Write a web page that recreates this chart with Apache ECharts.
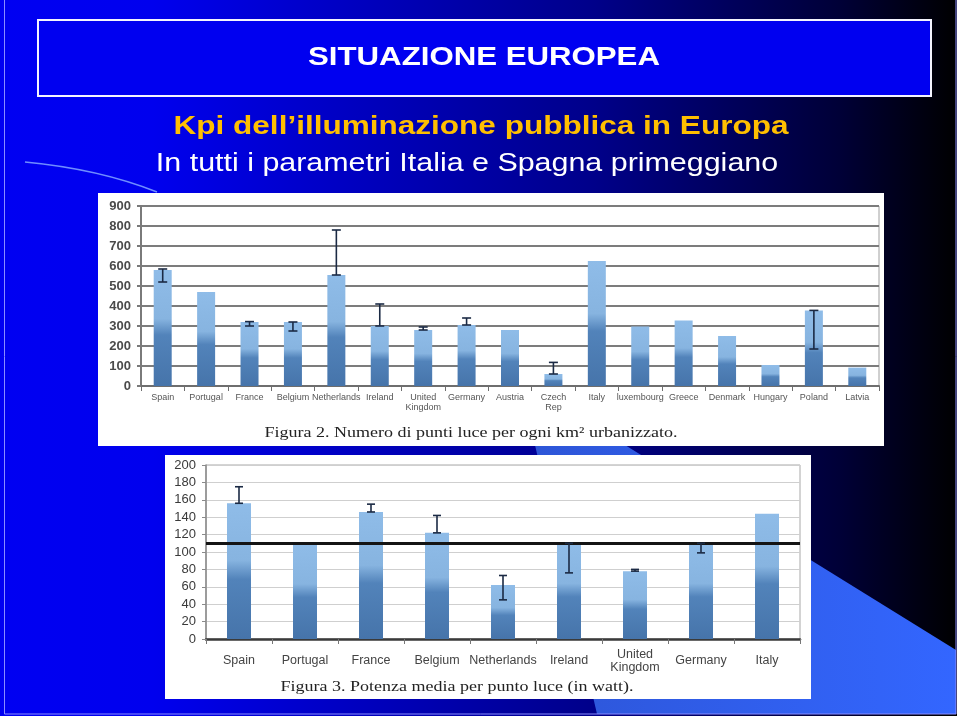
<!DOCTYPE html>
<html><head><meta charset="utf-8">
<script src="https://cdn.jsdelivr.net/npm/echarts@6/dist/echarts.min.js"></script>
<style>html,body{margin:0;padding:0;background:#fff;}#c{width:960px;height:716px;}</style>
</head><body><div id="c"></div>
<script>
// ---- Figure 2: number of light points per km² urbanized ----
const topCategories = ['Spain','Portugal','France','Belgium','Netherlands','Ireland','United\nKingdom','Germany','Austria','Czech\nRep','Italy','luxembourg','Greece','Denmark','Hungary','Poland','Latvia'];
const topValues   = [580, 470, 320, 320, 555, 300, 280, 305, 280, 60, 625, 297, 327, 250, 105, 378, 92];
const topErrLow   = [520, null, 300, 275, 555, 300, 280, 305, null, 60, null, null, null, null, null, 185, null];
const topErrHigh  = [585, null, 322, 320, 780, 410, 295, 340, null, 118, null, null, null, null, null, 378, null];

// ---- Figure 3: average power per light point (watt) ----
const bottomCategories = ['Spain','Portugal','France','Belgium','Netherlands','Ireland','United\nKingdom','Germany','Italy'];
const bottomValues  = [156, 109, 146, 122, 62, 110, 78, 110, 144];
const bottomErrLow  = [156, null, 146, 122, 45, 76, 78, 99, null];
const bottomErrHigh = [175, null, 155, 142, 73, 110, 80, 110, null];
const bottomReference = 110;

const slideTitle = 'SITUAZIONE EUROPEA';
const slideHeading = 'Kpi dell\u2019illuminazione pubblica in Europa';
const slideSub = 'In tutti i parametri Italia e Spagna primeggiano';
const caption2 = 'Figura 2. Numero di punti luce per ogni km\u00B2 urbanizzato.';
const caption3 = 'Figura 3. Potenza media per punto luce (in watt).';

const SANS = "'Liberation Sans', Arial, sans-serif";
const SERIF = "'Liberation Serif', 'Times New Roman', serif";

function barGradient() {
  return new echarts.graphic.LinearGradient(0, 0, 0, 1, [
    { offset: 0, color: '#8fbce8' },
    { offset: 0.42, color: '#87b4e0' },
    { offset: 0.56, color: '#5283ba' },
    { offset: 1, color: '#4674aa' }
  ]);
}

function errData(lo, hi) {
  const out = [];
  lo.forEach((l, i) => { if (l != null && hi[i] != null) out.push([i, l, hi[i]]); });
  return out;
}

function errorRender(capHalf) {
  return function (params, api) {
    const x = api.value(0);
    const a = api.coord([x, api.value(1)]);
    const b = api.coord([x, api.value(2)]);
    const style = { stroke: '#1b2a44', lineWidth: 1.6 };
    return {
      type: 'group',
      children: [
        { type: 'line', shape: { x1: a[0], y1: a[1], x2: b[0], y2: b[1] }, style: style },
        { type: 'line', shape: { x1: a[0] - capHalf, y1: a[1], x2: a[0] + capHalf, y2: a[1] }, style: style },
        { type: 'line', shape: { x1: b[0] - capHalf, y1: b[1], x2: b[0] + capHalf, y2: b[1] }, style: style }
      ]
    };
  };
}

const chart = echarts.init(document.getElementById('c'), null, { renderer: 'canvas' });

const graphics = [
  { type: 'rect', z: -100, shape: { x: 0, y: 0, width: 957, height: 716 },
    style: { fill: new echarts.graphic.LinearGradient(0, 0, 1, 0, [
      { offset: 0, color: '#0000f2' },
      { offset: 0.16, color: '#0000ee' },
      { offset: 0.62, color: '#00008a' },
      { offset: 0.88, color: '#000036' },
      { offset: 1, color: '#000000' }
    ]) } },
  { type: 'polygon', z: -99, shape: { points: [[520, 380], [956, 650], [956, 714], [597, 714]] },
    style: { fill: new echarts.graphic.LinearGradient(0, 0, 1, 0, [
      { offset: 0, color: '#2d55d6' },
      { offset: 1, color: '#3366ff' }
    ]) } },
  { type: 'bezierCurve', z: -98, shape: { x1: 25, y1: 162, cpx1: 99, cpy1: 169, x2: 157, y2: 192 },
    style: { stroke: '#6f8dff', lineWidth: 1.5, fill: null } },
  { type: 'rect', z: -97, shape: { x: 4.5, y: -2, width: 951.5, height: 716 },
    style: { fill: null, stroke: '#8a8cff', lineWidth: 1 } },
  { type: 'rect', z: -96, shape: { x: 38, y: 20, width: 893, height: 76 },
    style: { fill: '#0000f0', stroke: '#f4f4ff', lineWidth: 2 } },
  { type: 'text', z: 100, x: 484, y: 58, scaleX: 1.2,
    style: { text: slideTitle, fill: '#ffffff', font: 'bold 26px ' + SANS, textAlign: 'center', textVerticalAlign: 'middle' } },
  { type: 'text', z: 100, x: 481, y: 127, scaleX: 1.19,
    style: { text: slideHeading, fill: '#ffbf00', font: 'bold 26.5px ' + SANS, textAlign: 'center', textVerticalAlign: 'middle' } },
  { type: 'text', z: 100, x: 467, y: 164, scaleX: 1.17,
    style: { text: slideSub, fill: '#ffffff', font: '26px ' + SANS, textAlign: 'center', textVerticalAlign: 'middle' } },
  { type: 'rect', z: -50, shape: { x: 98, y: 193, width: 786, height: 253 }, style: { fill: '#ffffff' } },
  { type: 'rect', z: -50, shape: { x: 165, y: 455, width: 646, height: 244 }, style: { fill: '#ffffff' } },
  { type: 'text', z: 100, x: 471, y: 433, scaleX: 1.2,
    style: { text: caption2, fill: '#222222', font: '15px ' + SERIF, textAlign: 'center', textVerticalAlign: 'middle' } },
  { type: 'text', z: 100, x: 457, y: 687, scaleX: 1.2,
    style: { text: caption3, fill: '#222222', font: '15px ' + SERIF, textAlign: 'center', textVerticalAlign: 'middle' } }
];

const option = {
  animation: false,
  backgroundColor: 'transparent',
  graphic: { elements: graphics },
  grid: [
    { left: 141, top: 206, width: 738, height: 180, show: true, borderColor: '#a0a0a0', borderWidth: 1, backgroundColor: 'transparent' },
    { left: 206, top: 465, width: 594, height: 174, show: true, borderColor: '#a8a8a8', borderWidth: 1, backgroundColor: 'transparent' }
  ],
  xAxis: [
    { type: 'category', gridIndex: 0, data: topCategories,
      axisLine: { lineStyle: { color: '#6e6e6e', width: 2 } },
      axisTick: { show: true, length: 5, lineStyle: { color: '#6e6e6e', width: 1 } },
      axisLabel: { interval: 0, fontSize: 9, lineHeight: 10, margin: 7, color: '#555', fontFamily: SANS } },
    { type: 'category', gridIndex: 1, data: bottomCategories,
      axisLine: { lineStyle: { color: '#3a3a3a', width: 2.5 } },
      axisTick: { show: true, length: 5, lineStyle: { color: '#777', width: 1 } },
      axisLabel: { interval: 0, fontSize: 12.5, lineHeight: 13, margin: 22, verticalAlign: 'middle', color: '#444', fontFamily: SANS } }
  ],
  yAxis: [
    { type: 'value', gridIndex: 0, min: 0, max: 900, interval: 100,
      axisLine: { show: true, lineStyle: { color: '#7a7a7a', width: 2 } },
      axisTick: { show: true, length: 4, lineStyle: { color: '#7a7a7a', width: 2 } },
      splitLine: { show: true, lineStyle: { color: '#7c7c7c', width: 2 } },
      axisLabel: { fontSize: 13, fontWeight: 'bold', color: '#4a4a4a', margin: 10, fontFamily: SANS } },
    { type: 'value', gridIndex: 1, min: 0, max: 200, interval: 20,
      axisLine: { show: true, lineStyle: { color: '#8a8a8a', width: 1.5 } },
      axisTick: { show: true, length: 4, lineStyle: { color: '#8a8a8a', width: 1 } },
      splitLine: { show: true, lineStyle: { color: '#cfcfcf', width: 1 } },
      axisLabel: { fontSize: 13, color: '#3a3a3a', margin: 10, fontFamily: SANS } }
  ],
  series: [
    { type: 'bar', xAxisIndex: 0, yAxisIndex: 0, data: topValues, barWidth: 18,
      itemStyle: { color: barGradient() }, z: 2 },
    { type: 'custom', xAxisIndex: 0, yAxisIndex: 0, data: errData(topErrLow, topErrHigh),
      encode: { x: 0, y: [1, 2] }, renderItem: errorRender(4.5), z: 5 },
    { type: 'bar', xAxisIndex: 1, yAxisIndex: 1, data: bottomValues, barWidth: 24,
      itemStyle: { color: barGradient() }, z: 2,
      markLine: { silent: true, symbol: 'none', label: { show: false },
        lineStyle: { color: '#141414', width: 3, type: 'solid' },
        data: [{ yAxis: bottomReference }] } },
    { type: 'custom', xAxisIndex: 1, yAxisIndex: 1, data: errData(bottomErrLow, bottomErrHigh),
      encode: { x: 0, y: [1, 2] }, renderItem: errorRender(4), z: 5 }
  ]
};
chart.setOption(option);
</script>
</body></html>
